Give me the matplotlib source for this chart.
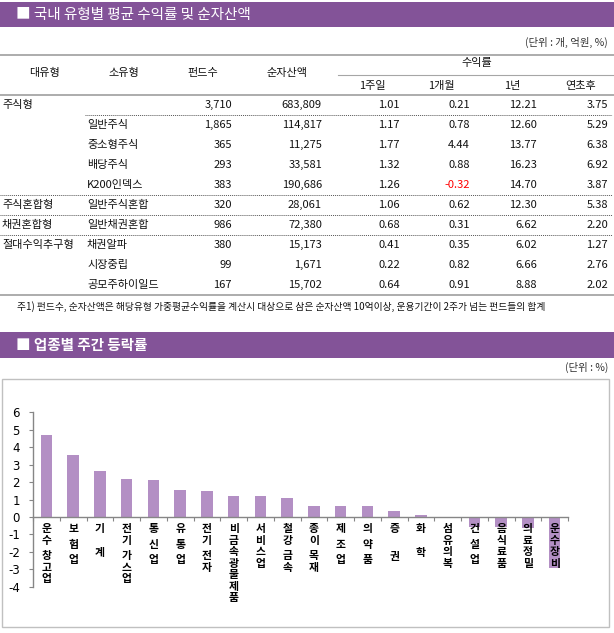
import matplotlib
matplotlib.use("Agg")
from matplotlib import pyplot as plt
from matplotlib.patches import Rectangle
import numpy as np

plt.rcParams['font.family'] = ['Noto Sans CJK KR', 'DejaVu Sans']

# table: 국내 유형별 평균 수익률 및 순자산액
major_types = ["주식형", "", "", "", "", "주식혼합형", "채권혼합형", "절대수익추구형", "", ""]
sub_types = ["", "일반주식", "중소형주식", "배당주식", "K200인덱스", "일반주식혼합",
             "일반채권혼합", "채권알파", "시장중립", "공모주하이일드"]
fund_counts = [3710, 1865, 365, 293, 383, 320, 986, 380, 99, 167]
net_assets = [683809, 114817, 11275, 33581, 190686, 28061, 72380, 15173, 1671, 15702]
ret_1w = [1.01, 1.17, 1.77, 1.32, 1.26, 1.06, 0.68, 0.41, 0.22, 0.64]
ret_1m = [0.21, 0.78, 4.44, 0.88, -0.32, 0.62, 0.31, 0.35, 0.82, 0.91]
ret_1y = [12.21, 12.60, 13.77, 16.23, 14.70, 12.30, 6.62, 6.02, 6.66, 8.88]
ret_ytd = [3.75, 5.29, 6.38, 6.92, 3.87, 5.38, 2.20, 1.27, 2.76, 2.02]

# chart: 업종별 주간 등락률 (%)
sectors = ["운수 창고업", "보 험 업", "기   계", "전기 가스업", "통 신 업", "유 통 업",
           "전기 전자", "비금속광물제품", "서비스업", "철강 금속", "종이 목재", "제 조 업",
           "의 약 품", "증    권", "화   학", "섬유의복", "건 설 업", "음식료품",
           "의료정밀", "운수장비"]
weekly_change = [4.68, 3.58, 2.62, 2.16, 2.10, 1.53, 1.47, 1.18, 1.18, 1.07,
                 0.66, 0.64, 0.64, 0.36, 0.12, 0.0, -0.55, -0.58, -0.62, -2.95]

purple = "#835398"
bar_color = "#b38fc4"
line_gray = "#a6a6a6"

W, H = 614, 633
fig = plt.figure(figsize=(W / 100, H / 100), dpi=100)

# background axes in pixel coordinates for the table part
bg = fig.add_axes([0, 0, 1, 1])
bg.set_xlim(0, W)
bg.set_ylim(H, 0)
bg.axis("off")

# title bars
bg.add_patch(Rectangle((0, 2), W, 25, color=purple, lw=0))
bg.text(16, 14.5, "■ 국내 유형별 평균 수익률 및 순자산액", color="white",
        fontsize=10.5, fontweight="medium", va="center", ha="left")
bg.text(608, 42, "(단위 : 개, 억원, %)", fontsize=7.5, ha="right", va="center", color="#333333")

bg.add_patch(Rectangle((0, 332), W, 26, color=purple, lw=0))
bg.text(16, 345, "■ 업종별 주간 등락률", color="white", fontsize=10.5,
        fontweight="bold", va="center", ha="left")
bg.text(608, 367, "(단위 : %)", fontsize=7.5, ha="right", va="center", color="#333333")

# table header
bg.plot([0, W], [54.5, 54.5], color=line_gray, lw=1.3)
bg.plot([338, W], [74.5, 74.5], color=line_gray, lw=0.8)
bg.plot([0, W], [95, 95], color=line_gray, lw=1.3)
hdr = dict(fontsize=8, ha="center", va="center", color="#111111")
bg.text(45, 73, "대유형", **hdr)
bg.text(124, 73, "소유형", **hdr)
bg.text(203, 73, "펀드수", **hdr)
bg.text(287, 73, "순자산액", **hdr)
bg.text(477, 63, "수익률", **hdr)
for label, x in zip(["1주일", "1개월", "1년", "연초후"], [372, 441, 512, 581]):
    bg.text(x, 86, label, **hdr)

# table rows
cell = dict(fontsize=8, va="center", color="#111111")
for i in range(len(sub_types)):
    y = 105 + 20 * i
    bg.text(2, y, major_types[i], ha="left", **cell)
    bg.text(87, y, sub_types[i], ha="left", **cell)
    bg.text(232, y, f"{fund_counts[i]:,}", ha="right", **cell)
    bg.text(322, y, f"{net_assets[i]:,}", ha="right", **cell)
    for vals, x in zip([ret_1w, ret_1m, ret_1y, ret_ytd], [400, 470, 537, 608]):
        v = vals[i]
        style = dict(cell)
        if v < 0:
            style["color"] = "red"
        bg.text(x, y, f"{v:.2f}", ha="right", **style)

dots = dict(color="#555555", lw=0.7, linestyle=(0, (1, 1)))
bg.plot([85, 612], [114.5, 114.5], **dots)
for y in [194.5, 214.5, 234.5]:
    bg.plot([0, 612], [y, y], **dots)
bg.plot([0, W], [295, 295], color=line_gray, lw=1.3)
bg.text(17, 307, "주1) 펀드수, 순자산액은 해당유형 가중평균수익률을 계산시 대상으로 삼은 "
        "순자산액 10억이상, 운용기간이 2주가 넘는 펀드들의 합계",
        fontsize=7, ha="left", va="center", color="#111111")

# chart frame
bg.add_patch(Rectangle((1.5, 379), 607, 248, fill=False, edgecolor="#c0c0c0", lw=1))

# bar chart
ax = fig.add_axes([33.1 / W, (H - 586.8) / H, 535 / W, (586.8 - 412.4) / H])
x = np.arange(len(sectors))
ax.bar(x, weekly_change, width=0.43, color=bar_color, zorder=2)
ax.set_xlim(-0.5, len(sectors) - 0.5)
ax.set_ylim(-4, 6)
ax.set_yticks(range(-4, 7))
ax.set_yticklabels([str(v) for v in range(-4, 7)], fontfamily="DejaVu Sans", fontsize=8.5)
ax.set_xticks(np.arange(-0.5, len(sectors), 1))
ax.set_xticklabels([])
ax.spines["top"].set_visible(False)
ax.spines["right"].set_visible(False)
ax.spines["bottom"].set_position(("data", 0))
for s in ["left", "bottom"]:
    ax.spines[s].set_color("#868686")
    ax.spines[s].set_linewidth(1)
ax.tick_params(axis="y", length=3, color="#868686", pad=6.5, labelcolor="black")
ax.tick_params(axis="x", length=3, color="#868686", direction="out")
ax.patch.set_alpha(0)

# vertical sector labels, one character per line
px = 0.72
for i, name in enumerate(sectors):
    off = 12
    for ch in name:
        if ch == " ":
            off += 4
            continue
        ax.annotate(ch, xy=(i, 0), xytext=(0, -off * px), textcoords="offset points",
                    ha="center", va="center", fontsize=7.8, fontweight="bold",
                    annotation_clip=False, zorder=3)
        off += 11.5

fig.savefig("out.png", dpi=100)
